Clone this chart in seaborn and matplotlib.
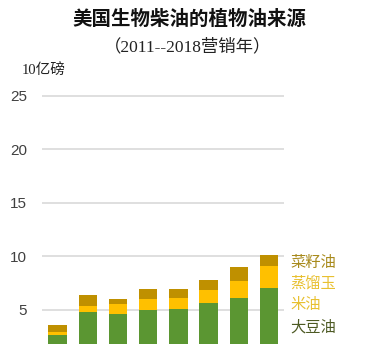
import matplotlib
matplotlib.use("Agg")
import matplotlib.pyplot as plt
import seaborn as sns
import pandas as pd
import numpy as np

years = ["2011", "2012", "2013", "2014", "2015", "2016", "2017", "2018"]
soybean = [2.65, 4.80, 4.63, 4.94, 5.06, 5.62, 6.09, 7.06]
corn_oil = [0.25, 0.60, 0.93, 1.06, 1.00, 1.22, 1.62, 1.99]
canola = [0.70, 0.97, 0.44, 0.93, 0.87, 0.96, 1.25, 1.12]
yticks = [5, 10, 15, 20, 25]

sns.set_theme(style="white")
plt.rcParams["font.family"] = ["Noto Sans CJK SC", "DejaVu Sans"]

df = pd.DataFrame({"year": years, "soy": soybean, "corn": corn_oil, "canola": canola})
df["soy_corn"] = df["soy"] + df["corn"]
df["total"] = df["soy_corn"] + df["canola"]

fig = plt.figure(figsize=(3.76, 3.44), dpi=100)
ax = fig.add_axes([0.1128, 0.0, 0.643, 0.7365])

c_soy = "#5b9632"
c_corn = "#ffc000"
c_canola = "#bf9000"

for col, color in [("total", c_canola), ("soy_corn", c_corn), ("soy", c_soy)]:
    sns.barplot(data=df, x="year", y=col, color=color, width=0.61,
                saturation=1, linewidth=0, ax=ax, zorder=3)

ax.set_ylim(1.8, 25.5)
ax.set_xlim(-0.5, 7.5)
ax.set_yticks(yticks)
ax.set_yticklabels([str(t) for t in yticks], fontsize=11, color="#404040",
                   family=["Arial", "Liberation Sans", "DejaVu Sans"])
ax.set_xticks([])
ax.set_xlabel("")
ax.set_ylabel("")
ax.tick_params(axis="y", length=0, pad=11)
ax.grid(axis="y", color="#d9d9d9", linewidth=1.2, zorder=0)
for s in ax.spines.values():
    s.set_visible(False)

fig.text(0.505, 0.942, "美国生物柴油的植物油来源", ha="center", va="center",
         fontsize=14, fontweight="bold", color="#111111")
fig.text(0.498, 0.863, "（2011--2018营销年）", ha="center", va="center",
         fontsize=12.5, color="#222222",
         family=["Liberation Serif", "Noto Sans CJK SC", "DejaVu Sans"])
fig.text(0.058, 0.797, "10亿磅", ha="left", va="center", fontsize=10.5, color="#222222",
         family=["Liberation Serif", "Noto Sans CJK SC", "DejaVu Sans"])

leg = [("菜籽油", 0.238, "#a88a1c"), ("蒸馏玉", 0.177, "#e8c030"),
       ("米油", 0.116, "#e8c030"), ("大豆油", 0.049, "#4d5a24")]
for txt, yy, col in leg:
    fig.text(0.772, yy, txt, ha="left", va="center", fontsize=11, color=col)

fig.savefig("out.png", dpi=100)
